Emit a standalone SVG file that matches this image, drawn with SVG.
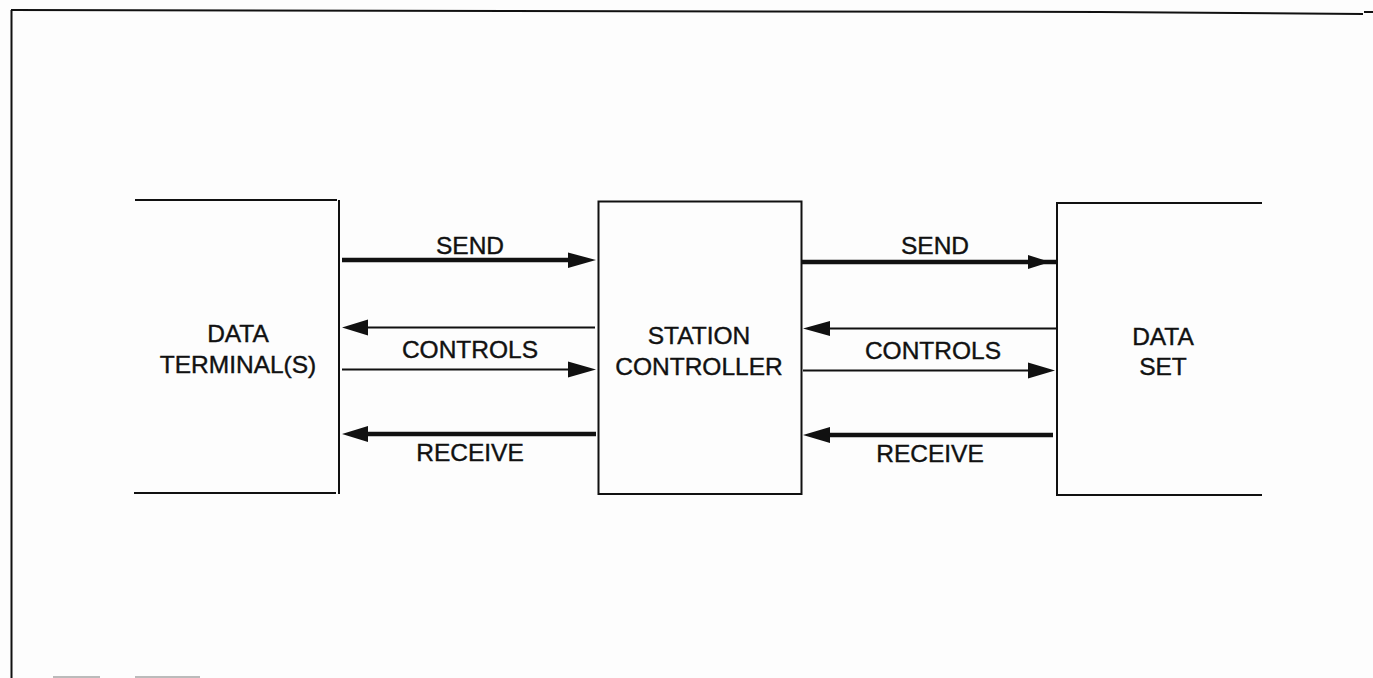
<svg xmlns="http://www.w3.org/2000/svg" width="1373" height="678" viewBox="0 0 1373 678">
<style>
.bg{fill:#fdfdfd}
.frame{stroke:#111;stroke-width:2;fill:none}
.box{stroke:#111;stroke-width:2;fill:none}
.thick{stroke:#111;stroke-width:4.5;fill:none}
.thin{stroke:#111;stroke-width:2;fill:none}
.head{fill:#111}
text{font-family:"Liberation Sans",Arial,sans-serif;font-size:24.5px;fill:#111;stroke:#111;stroke-width:0.4;text-anchor:middle}
</style>
<rect class="bg" x="0" y="0" width="1373" height="678"/>
<g id="frame">
<path class="frame" d="M11,10 L1100,12 L1363,14"/>
<path class="frame" d="M1364,12 L1373,12"/>
<path class="frame" stroke-width="2.5" d="M11.5,10 L11.5,678"/>
<path d="M53,677 L100,677 M135,677 L200,677" stroke="#bbb" stroke-width="2"/>
</g>
<g id="data-terminals">
<path class="box" d="M135,200 L337,200 M339,200 L339,494 M134,493 L336,493"/>
<text x="238" y="342">DATA</text>
<text x="238" y="373">TERMINAL(S)</text>
</g>
<g id="station-controller">
<rect class="box" x="598.5" y="201.5" width="203" height="292.5"/>
<text x="699" y="344">STATION</text>
<text x="699" y="375">CONTROLLER</text>
</g>
<g id="data-set">
<path class="box" d="M1262,203 L1057,203 L1057,495 L1262,495"/>
<text x="1163" y="345">DATA</text>
<text x="1163" y="375">SET</text>
</g>
<g id="connectors">
<line class="thick" x1="342" y1="260" x2="572" y2="260"/>
<polygon class="head" points="568,252.5 596,260 568,268"/>
<text x="470" y="254">SEND</text>
<line class="thin" x1="595" y1="327.5" x2="365" y2="327.5"/>
<polygon class="head" points="368,319.5 342,327.5 368,335.5"/>
<text x="470" y="358">CONTROLS</text>
<line class="thin" x1="342" y1="369.5" x2="572" y2="369.5"/>
<polygon class="head" points="568,361.5 596,369.5 568,377.5"/>
<line class="thick" x1="596" y1="434" x2="365" y2="434"/>
<polygon class="head" points="368,426 342,434 368,442"/>
<text x="470" y="461">RECEIVE</text>

<line class="thick" x1="801" y1="262" x2="1056" y2="262"/>
<polygon class="head" points="1028,255 1050,262 1028,269"/>
<text x="935" y="254">SEND</text>
<line class="thin" x1="1057" y1="328.5" x2="825" y2="328.5"/>
<polygon class="head" points="830,321 803,328.5 830,336"/>
<text x="933" y="359">CONTROLS</text>
<line class="thin" x1="803" y1="370.5" x2="1032" y2="370.5"/>
<polygon class="head" points="1028,362.5 1055,370.5 1028,378.5"/>
<line class="thick" x1="1053" y1="435" x2="825" y2="435"/>
<polygon class="head" points="830,427 803,435 830,443"/>
<text x="930" y="462">RECEIVE</text>
</g>
</svg>
